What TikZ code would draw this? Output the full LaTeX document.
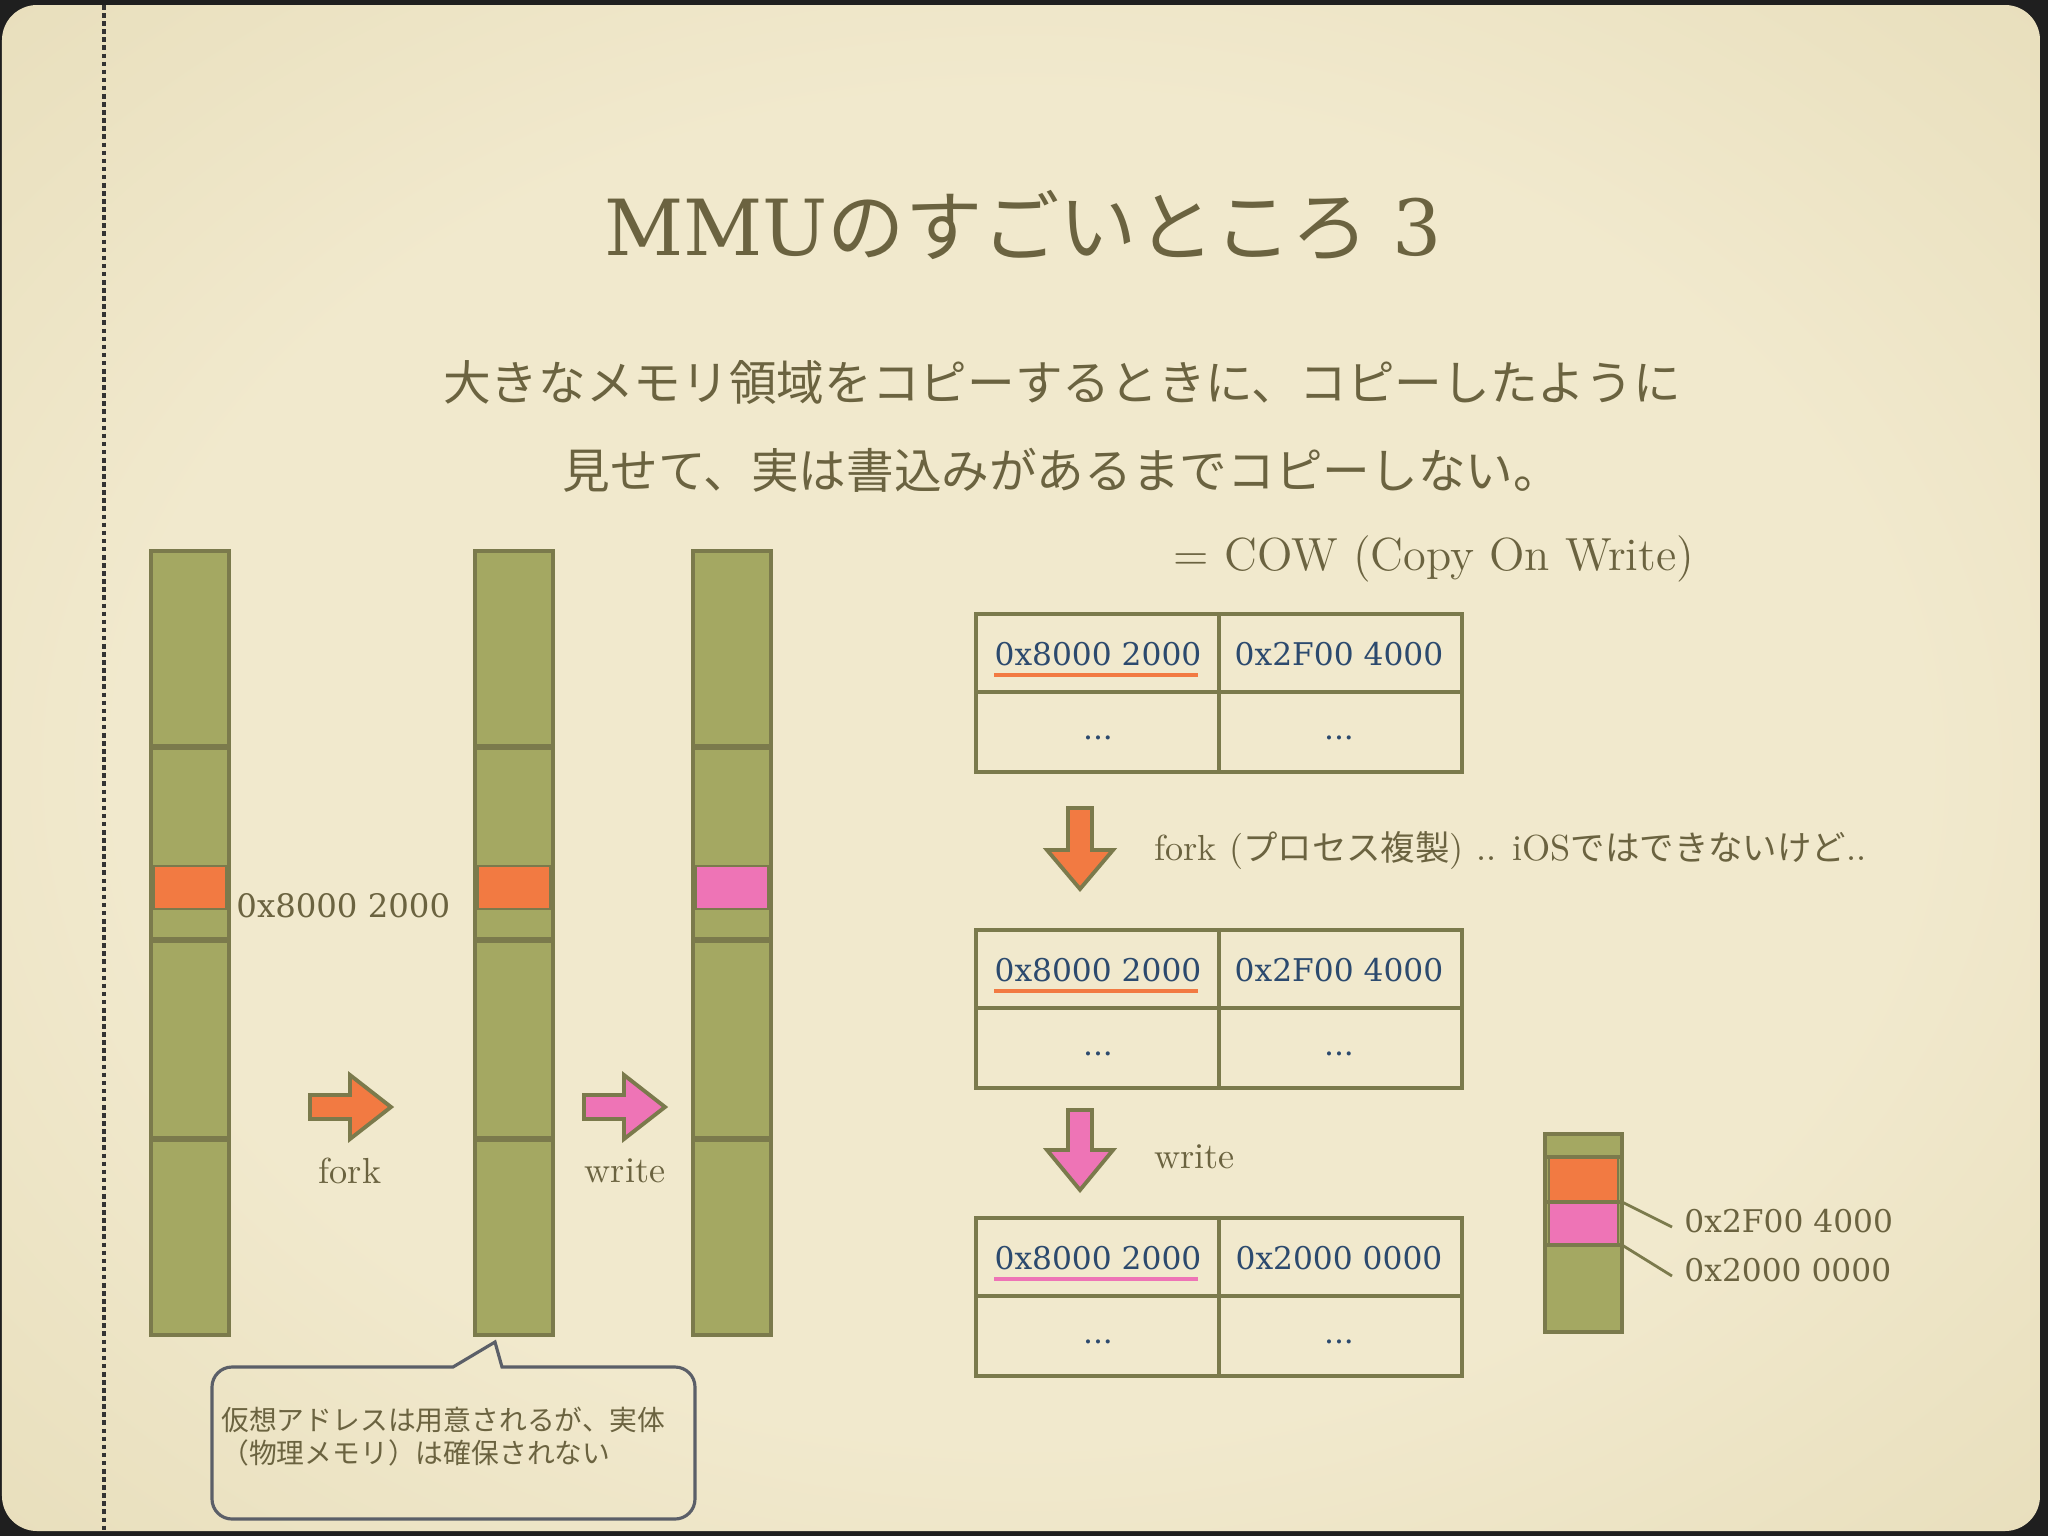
\documentclass[tikz,border=0pt]{standalone}
\usepackage{fontspec}
\usepackage{tikz}

\newfontfamily\jpfont{Noto Sans CJK JP}
\newfontfamily\hexfont{DejaVu Serif}
\newcommand{\jp}[1]{{\jpfont\fontsize{9.8}{12}\selectfont #1}}

\definecolor{ink}{HTML}{6B6340}
\definecolor{navy}{HTML}{2C4A6E}
\definecolor{olive}{HTML}{A4A862}
\definecolor{oliveline}{HTML}{7B7A4C}
\definecolor{forkcol}{HTML}{F27A42}
\definecolor{writecol}{HTML}{EE74B6}
\definecolor{callcol}{HTML}{5B5F68}
\definecolor{paperlight}{HTML}{F1E9CD}
\definecolor{paperedge}{HTML}{DFD4AB}
\definecolor{papercorner}{HTML}{C9BE93}

\pgfdeclareradialshading{paper}{\pgfpoint{0bp}{0bp}}{color(0bp)=(paperlight); color(22bp)=(paperlight); color(50bp)=(paperedge); color(75bp)=(papercorner)}

\begin{document}
\begin{tikzpicture}[x=0.01cm, y=-0.01cm,
  bar/.style={fill=olive, draw=oliveline, line width=1.1pt},
  divider/.style={oliveline, line width=1.7pt},
  cell/.style={draw=oliveline, line width=1pt},
  hex/.style={font=\hexfont\fontsize{8.9}{10}\selectfont, text=navy},
  lbl/.style={font=\fontsize{10.3}{12}\selectfont, text=ink},
  blockarrow/.style={draw=oliveline, line width=1.1pt, line join=miter}]

% Slide background
\useasboundingbox (0,0) rectangle (2048,1536);
\fill[black!88] (0,0) rectangle (2048,1536);
\shade[shading=paper, rounded corners=0.35cm] (2,5) rectangle (2040,1531);
\draw[black!80, line width=1pt, dash pattern=on 1.3pt off 1pt] (104,5) -- (104,1531);

% Title and intro
\node[text=ink, font=\fontsize{22}{26}\selectfont] (title) at (1023,225)
  {{\hexfont MMU}{\jpfont のすごいところ} {\hexfont 3}};
\node[text=ink, font=\jpfont\fontsize{13.55}{16}\selectfont] (intro1) at (1062,382)
  {大きなメモリ領域をコピーするときに、コピーしたように};
\node[text=ink, font=\jpfont\fontsize{13.55}{16}\selectfont] (intro2) at (1062,470)
  {見せて、実は書込みがあるまでコピーしない。};
\node[text=ink, font=\fontsize{13.2}{15}\selectfont] (cow) at (1434,559) {= COW (Copy On Write)};

% Virtual memory bars
\foreach \x/\blk in {151/forkcol, 475/forkcol, 693/writecol} {
  \draw[bar] (\x,551) rectangle ++(78,784);
  \foreach \y in {747,940,1139} \draw[divider] (\x,\y) -- ++(78,0);
  \draw[fill=\blk, draw=oliveline, line width=0.5pt] (\x+3,866) rectangle ++(72,43);
}
\node[hex, text=ink, font=\hexfont\fontsize{9.2}{10}\selectfont, anchor=west] (vaddr) at (224,906) {0x8000 2000};

% fork / write arrows
\draw[blockarrow, fill=forkcol] (310,1095) -- (350,1095) -- (350,1075) -- (391,1107)
  -- (350,1139) -- (350,1119) -- (310,1119) -- cycle;
\draw[blockarrow, fill=writecol] (584,1095) -- (624,1095) -- (624,1075) -- (665,1107)
  -- (624,1139) -- (624,1119) -- (584,1119) -- cycle;
\node[lbl] (forklbl) at (350,1171) {fork};
\node[lbl] (writelbl) at (625,1171) {write};

% Callout
\draw[callcol, line width=0.9pt] (212,1440) [rounded corners=0.2cm] -- (212,1367)
  [sharp corners] -- (453,1367) -- (495,1342) -- (502,1367) [rounded corners=0.2cm]
  -- (530,1367) -- (695,1367) -- (695,1519) -- (212,1519) -- cycle;
\node[anchor=west, align=left, text=ink, font=\jpfont\fontsize{7.9}{9.4}\selectfont] (calltext) at (209,1437)
  {仮想アドレスは用意されるが、実体\\（物理メモリ）は確保されない};

% Page tables
\foreach \ty/\rval/\ucol [count=\k] in {614/0x2F00 4000/forkcol, 930/0x2F00 4000/forkcol, 1218/0x2000 0000/writecol} {
  \draw[cell] (976,\ty) rectangle ++(486,158);
  \draw[cell] (1219,\ty) -- ++(0,158);
  \draw[cell] (976,\ty+78) -- ++(486,0);
  \node[hex] (left\k) at (1098,\ty+40) {0x8000 2000};
  \node[hex] (right\k) at (1339,\ty+40) {\rval};
  \draw[\ucol, line width=1pt] (994,\ty+61) -- (1198,\ty+61);
  \node[hex] (ldots\k) at (1098,\ty+124) {...};
  \node[hex] (rdots\k) at (1339,\ty+124) {...};
}

% Down arrows
\draw[blockarrow, fill=forkcol] (1068,808) -- (1092,808) -- (1092,850) -- (1113,850)
  -- (1080,889) -- (1047,850) -- (1068,850) -- cycle;
\draw[blockarrow, fill=writecol] (1068,1110) -- (1092,1110) -- (1092,1150) -- (1113,1150)
  -- (1080,1190) -- (1047,1150) -- (1068,1150) -- cycle;
\node[lbl, anchor=west] (forknote) at (1142,851) {fork (\jp{プロセス複製}) .. iOS\jp{ではできないけど}..};
\node[lbl, anchor=west] (writenote) at (1142,1157) {write};

% Physical memory
\draw[bar] (1545,1134) rectangle (1622,1332);
\draw[fill=forkcol, draw=oliveline, line width=0.5pt] (1549,1158) rectangle (1618,1202);
\draw[fill=writecol, draw=oliveline, line width=0.5pt] (1549,1202) rectangle (1618,1245);
\foreach \y in {1157,1202,1245} \draw[oliveline, line width=1pt] (1545,\y) -- ++(77,0);
\coordinate (p2f) at (1622,1202);
\coordinate (p20) at (1622,1245);
\node[hex, text=ink, anchor=west] (phys2f) at (1672,1221) {0x2F00 4000};
\node[hex, text=ink, anchor=west] (phys20) at (1672,1270) {0x2000 0000};
\draw[oliveline, line width=0.8pt] (p2f) -- ([yshift=-0.06cm]phys2f.west);
\draw[oliveline, line width=0.8pt] (p20) -- ([yshift=-0.06cm]phys20.west);

\end{tikzpicture}
\end{document}
